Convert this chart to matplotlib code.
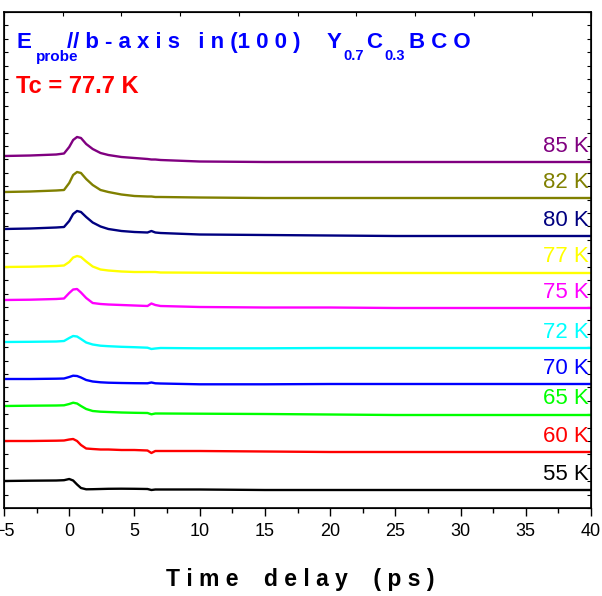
import matplotlib
matplotlib.use("Agg")
import matplotlib.pyplot as plt
import numpy as np
from matplotlib.ticker import MultipleLocator

plt.rcParams['font.family'] = ['Liberation Sans', 'DejaVu Sans']

# time delay (ps), shared by all traces
time_ps = [-5, -3, -1, -0.4, 0, 0.3, 0.6, 0.9, 1.3, 1.8, 2.4, 3, 4, 5, 6, 6.3, 6.6, 7,
           10, 15, 20, 25, 30, 35, 40]

temps = ["85 K", "82 K", "80 K", "77 K", "75 K", "72 K", "70 K", "65 K", "60 K", "55 K"]
colors = ["#800080", "#808000", "#000080", "#FFFF00", "#FF00FF",
          "#00FFFF", "#0000FF", "#00FF00", "#FF0000", "#000000"]

# vertical offset of each trace (a.u.)
offsets = [352, 316, 279, 241, 208, 166, 129, 102, 67, 27]

# signal of each trace relative to its offset (a.u.)
sig_85 = [0, 0.5, 1.5, 2.5, 9, 16, 19, 18, 12, 7, 3, 1, -1, -2, -3, -3.5, -3.5, -4,
          -5.5, -6, -6, -6, -6, -6, -6]
sig_82 = [0, 0.5, 1.5, 2, 9, 17, 20, 19, 13, 7, 2, 0, -2.5, -4, -4.5, -4.5, -5, -5,
          -5.5, -6, -6, -6, -6, -6, -6]
sig_80 = [0, 0.5, 1.5, 2, 8, 15, 18, 17, 12, 6.5, 2.5, 0, -2, -3, -3.5, -2, -3.5, -4,
          -5.5, -6, -6.5, -7, -7, -7, -7]
sig_77 = [0, 0.3, 1, 1.5, 5, 9.5, 11, 10, 5.5, 0.5, -2.5, -3.5, -4.5, -5, -5, -5, -5, -5.5,
          -5.7, -6, -6, -6, -6, -6, -6]
sig_75 = [0, 0.3, 1, 1.5, 7, 10.5, 11, 7.5, 2, -3, -4, -4.5, -5, -5.5, -6, -3.5, -5, -6,
          -7, -7.5, -7.5, -8, -8, -8, -8]
sig_72 = [0, 0.2, 0.5, 1, 4, 6, 5.5, 3, -0.5, -2.5, -3.7, -4.2, -4.8, -5.2, -5.7, -7, -6.5, -6,
          -6.3, -6.3, -6, -6, -6, -6, -6]
sig_70 = [0, 0, 0.3, 0.5, 2, 3.3, 3, 1.5, -1, -2.5, -3.3, -3.7, -4, -4.2, -4.3, -3.5, -4.3, -4.5,
          -5.3, -5.3, -5, -5, -5, -5, -5]
sig_65 = [0, 0.3, 0.5, 0.7, 2, 3.3, 2.5, 0, -3, -5, -5.7, -6, -6.5, -6.8, -7, -8.3, -7.5, -7.5,
          -7.7, -8, -8.5, -9, -9, -9, -9]
sig_60 = [0, 0, 0.3, 0.5, 1.5, 2, 0, -4, -7.5, -8, -8.5, -8.5, -9, -9, -9.5, -12, -10, -10,
          -10, -10.5, -11, -11, -11, -11, -11]
sig_55 = [0, 0.3, 0.5, 0.8, 2, 0.5, -3.5, -7, -8.3, -8.2, -8, -7.8, -7.7, -7.8, -8, -9, -8.5, -8.5,
          -8.5, -9, -9, -9, -9, -9, -9]
signals = [sig_85, sig_82, sig_80, sig_77, sig_75, sig_72, sig_70, sig_65, sig_60, sig_55]

W, H = 602, 596
fig = plt.figure(figsize=(W / 100, H / 100), dpi=100)
ax = fig.add_axes([4 / W, 1 - 508 / H, 587 / W, 496 / H])


def px(x, y):
    # pixel position from top-left -> figure fraction
    return x / W, 1 - y / H


for lab, col, off, sig in zip(temps, colors, offsets, signals):
    y = np.array(sig) + off
    ax.plot(time_ps, y, color=col, lw=1.7)
    ax.text(39.8, y[-1] + 16, lab, color=col, fontsize=16, ha='right', va='center')

ax.set_xlim(-5, 40)
ax.set_ylim(0, 496)
ax.xaxis.set_major_locator(MultipleLocator(5))
ax.xaxis.set_minor_locator(MultipleLocator(2.5))
ax.yaxis.set_major_locator(MultipleLocator(496 / 37))
ax.tick_params(axis='x', which='major', direction='out', length=6, width=1,
               labelsize=13, pad=5)
ax.tick_params(axis='x', which='minor', direction='out', length=3.5, width=1)
ax.tick_params(axis='y', which='major', direction='in', length=3, width=0.8,
               left=True, right=True, labelleft=False)
for s in ax.spines.values():
    s.set_linewidth(1.2)

# top axis ticks divide the frame in ten
top = ax.twiny()
top.set_xlim(0, 10)
top.xaxis.set_major_locator(MultipleLocator(1))
top.tick_params(axis='x', direction='in', length=3, width=0.8, labeltop=False)

fig.text(*px(300, 586), "T i m e    d e l a y    ( p s )", fontsize=16.5,
         fontweight='bold', ha='center', va='baseline')

# title, built from pieces so the subscripts sit low like the original
blue = '#0000FF'
fig.text(*px(16, 48), "E", color=blue, fontsize=16, fontweight='bold', va='baseline')
fig.text(*px(36, 61), "probe", color=blue, fontsize=11, fontweight='bold', va='baseline')
fig.text(*px(67, 48), "// b - a x i s   i n (1 0 0 )", color=blue, fontsize=16,
         fontweight='bold', va='baseline')
fig.text(*px(327, 48), "Y", color=blue, fontsize=16, fontweight='bold', va='baseline')
fig.text(*px(343, 60), "0.7", color=blue, fontsize=10.5, fontweight='bold', va='baseline')
fig.text(*px(366, 48), "C", color=blue, fontsize=16, fontweight='bold', va='baseline')
fig.text(*px(384, 60), "0.3", color=blue, fontsize=10.5, fontweight='bold', va='baseline')
fig.text(*px(409, 48), "B C O", color=blue, fontsize=16, fontweight='bold', va='baseline')

fig.text(*px(16, 93), "Tc = 77.7 K", color='#FF0000', fontsize=17,
         fontweight='bold', va='baseline')

fig.savefig("out.png", dpi=100)
